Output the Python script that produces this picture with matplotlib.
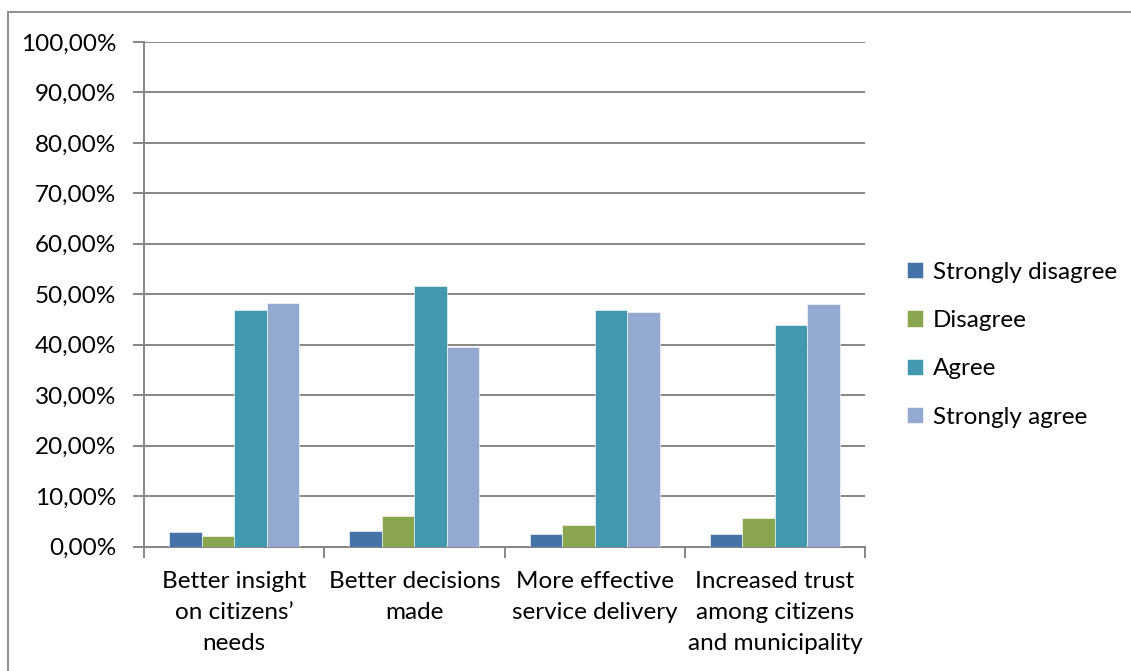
import matplotlib
matplotlib.use("Agg")
import matplotlib.pyplot as plt
import numpy as np
from matplotlib.patches import Rectangle

categories = ["Better insight\non citizens’\nneeds", "Better decisions\nmade",
              "More effective\nservice delivery", "Increased trust\namong citizens\nand municipality"]
series_names = ["Strongly disagree", "Disagree", "Agree", "Strongly agree"]
strongly_disagree = [2.8, 3.1, 2.45, 2.45]
disagree = [2.05, 5.95, 4.3, 5.6]
agree = [46.9, 51.6, 46.9, 43.9]
strongly_agree = [48.3, 39.5, 46.5, 48.1]
yticks = list(range(0, 101, 10))
ytick_labels = [f"{v},00%" for v in yticks]

colors = ["#4572A7", "#89A54E", "#4198AF", "#93A9CF"]
values = [strongly_disagree, disagree, agree, strongly_agree]

plt.rcParams['font.family'] = ['Lato', 'DejaVu Sans']
FS = 17.5
W, H = 1131, 671
fig = plt.figure(figsize=(W/100, H/100), dpi=100)
fig.patch.set_facecolor("white")

# outer chart border
fig.add_artist(Rectangle((8/W, -0.1), 1.2, (H-12)/H + 0.1, transform=fig.transFigure,
                         fill=False, edgecolor="#868686", linewidth=1.3))

ax = fig.add_axes([144/W, (H-546.5)/H, (865-144)/W, (546.5-42)/H])
n = len(categories)
x = np.arange(n)
bw = 0.18
for i, (vals, c, name) in enumerate(zip(values, colors, series_names)):
    offs = (i - 1.5) * bw
    ax.bar(x + offs, vals, width=bw, color=c, edgecolor="white", linewidth=0.4, label=name, zorder=3)

ax.set_xlim(-0.5, n - 0.5)
ax.set_ylim(0, 100)
ax.set_yticks(yticks)
ax.set_yticklabels(ytick_labels, fontsize=FS, color="black")
ax.yaxis.grid(True, color="#868686", linewidth=1.4, zorder=0)
ax.set_axisbelow(True)

ax.set_xticks(np.arange(-0.5, n, 1.0))
ax.set_xticklabels([])
ax.set_xticks(x, minor=True)
ax.set_xticklabels(categories, minor=True, fontsize=FS, color="black", linespacing=1.58)
ax.tick_params(axis='x', which='major', length=8, width=1.4, color="#868686", direction='out')
ax.tick_params(axis='x', which='minor', length=0, pad=18)
ax.tick_params(axis='y', length=8, width=1.4, color="#868686", direction='out', pad=12)

for s in ["top", "right"]:
    ax.spines[s].set_visible(False)
for s in ["left", "bottom"]:
    ax.spines[s].set_color("#868686")
    ax.spines[s].set_linewidth(1.4)

leg = ax.legend(loc="center left", bbox_to_anchor=(1.045, 0.40), frameon=False,
                fontsize=FS, handlelength=0.65, handleheight=0.65, handletextpad=0.4,
                labelspacing=1.12, borderaxespad=0)

fig.savefig("out.png", dpi=100, facecolor="white")
